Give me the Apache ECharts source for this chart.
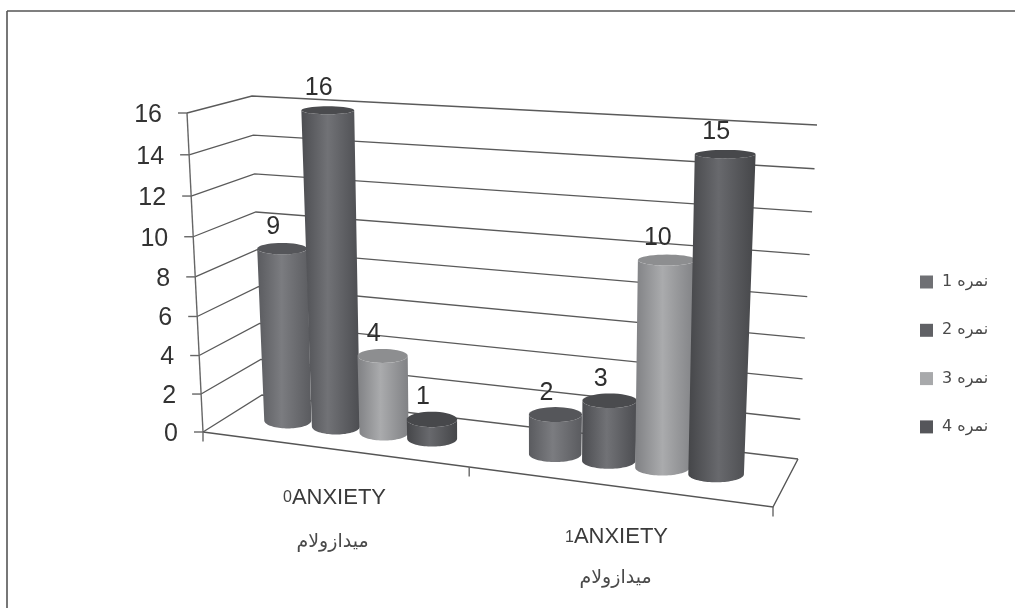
<!DOCTYPE html>
<html><head><meta charset="utf-8">
<style>html,body{margin:0;padding:0;background:#fff}#c{width:1015px;height:608px;filter:blur(0.45px)}</style>
<script src="https://cdn.jsdelivr.net/npm/echarts@6/dist/echarts.min.js"></script>
</head><body><div id="c"></div>
<script>
const categories = ['ANXIETY', 'ANXIETY'];
const categoryDigits = ['0', '1'];
const drugLabels = ['میدازولام', 'میدازولام'];
const seriesNames = ['نمره 1', 'نمره 2', 'نمره 3', 'نمره 4'];
const score1 = [9, 2];
const score2 = [16, 3];
const score3 = [4, 10];
const score4 = [1, 15];
const yTicks = [0, 2, 4, 6, 8, 10, 12, 14, 16];
const allScores = [score1, score2, score3, score4];

// Perspective box (screen corners of the 3D chart box)
const box = {
  flb: [203, 432], frb: [773, 507], blb: [262, 395], brb: [798, 459],
  flt: [187, 113], frt: [780, 146], blt: [252, 96], brt: [817, 125]
};
const lerp = (a, b, t) => [a[0] + (b[0] - a[0]) * t, a[1] + (b[1] - a[1]) * t];
function proj(api, u, v, d) {
  const p = api.coord([u, v]), o = api.coord([0, 0]), e = api.coord([1, 16]);
  const s = (p[0] - o[0]) / (e[0] - o[0]);
  let h = (p[1] - o[1]) / (e[1] - o[1]);
  h = h - 0.055 * h * (1 - h); // vertical foreshortening
  const fb = lerp(box.flb, box.frb, s), bb = lerp(box.blb, box.brb, s);
  const ft = lerp(box.flt, box.frt, s), bt = lerp(box.blt, box.brt, s);
  return lerp(lerp(fb, bb, d), lerp(ft, bt, d), h);
}
const groupCenter = [0.2305, 0.729];
const barStep = [0.087, 0.097];
const palettes = [
  { edge: '#5a5b5f', mid: '#7b7c80', top: '#55565a', legend: '#6f7074' },
  { edge: '#4c4d51', mid: '#717276', top: '#4a4b4e', legend: '#606165' },
  { edge: '#808184', mid: '#aaabad', top: '#8d8e90', legend: '#a8a9ab' },
  { edge: '#454649', mid: '#68696d', top: '#47484b', legend: '#55565a' }
];
function ellipse(c, rx, ry, from, to) {
  const pts = [];
  const n = 40;
  for (let i = 0; i <= n; i++) {
    const a = from + (to - from) * i / n;
    pts.push([c[0] + rx * Math.cos(a), c[1] + ry * Math.sin(a)]);
  }
  return pts;
}
function cylinder(sIdx) {
  return function (params, api) {
    const u = api.value(0), v = api.value(1);
    const b = proj(api, u, 0, 0.5), t = proj(api, u, v, 0.5);
    const rb = 23 + 5.5 * u;
    const rt = rb * (1 + 0.1 * v / 16);
    const ryT = 8 - 4 * v / 16, ryB = 8;
    const pal = palettes[sIdx];
    const body = ellipse(b, rb, ryB, 0, Math.PI).concat(ellipse(t, rt, ryT, Math.PI, 0));
    return {
      type: 'group',
      children: [
        { type: 'polygon', shape: { points: body }, style: {
            fill: new echarts.graphic.LinearGradient(0, 0, 1, 0, [
              { offset: 0, color: pal.edge }, { offset: 0.45, color: pal.mid }, { offset: 1, color: pal.edge }
            ]) } },
        { type: 'polygon', shape: { points: ellipse(t, rt, ryT, 0, Math.PI * 2) }, style: { fill: pal.top } },
        { type: 'text', z2: 10, style: { text: String(v), x: t[0] - 9, y: t[1] - 22, align: 'center', verticalAlign: 'middle',
            font: '25px "Liberation Sans"', fill: '#2e2e2e' } }
      ]
    };
  };
}
function barU(g, i) { return groupCenter[g] + (i - 1.5) * barStep[g]; }

function renderLevel(params, api) {
  const v = api.value(0);
  const fl = proj(api, 0, v, 0), bl = proj(api, 0, v, 1), br = proj(api, 1, v, 1);
  const kids = [
    { type: 'polyline', shape: { points: [fl, bl, br] }, style: { stroke: '#5a5a5a', lineWidth: 1.3, fill: 'none' } },
    { type: 'line', shape: { x1: fl[0] - 9, y1: fl[1], x2: fl[0], y2: fl[1] }, style: { stroke: '#666', lineWidth: 1.4 } },
    { type: 'text', style: { text: String(v), x: fl[0] - 25, y: fl[1] + 2, align: 'right', verticalAlign: 'middle',
        font: '25px "Liberation Sans"', fill: '#333' } }
  ];
  return { type: 'group', children: kids };
}
function renderFrame(params, api) {
  const a = proj(api, 0, 0, 0), b = proj(api, 1, 0, 0), c = proj(api, 1, 0, 1);
  const top = proj(api, 0, 16, 0), mid = proj(api, 0.467, 0, 0);
  const st = { stroke: '#666', lineWidth: 1.4 };
  const tick = p => ({ type: 'line', shape: { x1: p[0], y1: p[1], x2: p[0], y2: p[1] + 9.5 }, style: st });
  return { type: 'group', children: [
    { type: 'line', shape: { x1: top[0], y1: top[1], x2: a[0], y2: a[1] }, style: st },
    { type: 'polyline', shape: { points: [a, b, c] }, style: { stroke: '#555', lineWidth: 1.4, fill: 'none' } },
    tick(a), tick(mid), tick(b)
  ] };
}
function renderCategory(params, api) {
  const g = api.value(0);
  const p = proj(api, 0.25 + 0.5 * g, 0, 0);
  return { type: 'group', children: [
    { type: 'text', style: { x: p[0] - (g ? 14 : 11), y: p[1] + (g ? 49 : 47), align: 'center', verticalAlign: 'middle',
        text: '{d|' + categoryDigits[g] + '}{a|' + categories[g] + '}',
        rich: { d: { font: '16px "Liberation Sans"', fill: '#444' }, a: { font: '22px "Liberation Sans"', fill: '#3a3a3a' } } } },
    { type: 'text', style: { x: p[0] - (g ? 15 : 13), y: p[1] + (g ? 90 : 91), align: 'center', verticalAlign: 'middle', text: drugLabels[g],
        font: '19px "DejaVu Sans"', fill: '#4a4a4a' } }
  ] };
}

const barSeries = seriesNames.map((name, i) => ({
  name, type: 'custom', clip: false, z: 5 + i,
  renderItem: cylinder(i),
  itemStyle: { color: palettes[i].legend },
  encode: { x: 0, y: 1 },
  data: allScores[i].map((v, g) => [barU(g, i), v])
}));

const chart = echarts.init(document.getElementById('c'), null, { renderer: 'canvas' });
chart.setOption({
  animation: false,
  backgroundColor: '#fff',
  grid: { left: 200, right: 200, top: 113, bottom: 176 },
  xAxis: { type: 'value', min: 0, max: 1, show: false },
  yAxis: { type: 'value', min: 0, max: 16, interval: 2, show: false },
  legend: {
    orient: 'vertical', left: 920, top: 274, padding: 0, itemWidth: 13, itemHeight: 13, itemGap: 32.3, itemStyle: { borderWidth: 0 },
    icon: 'rect', data: seriesNames, textStyle: { fontFamily: 'DejaVu Sans', fontSize: 16, lineHeight: 14, color: '#4a4a4a', padding: [0, 0, 0, 4] }
  },
  series: [
    { type: 'custom', z: 1, clip: false, silent: true, renderItem: renderLevel, encode: { y: 0 }, data: yTicks.map(v => [v]) },
    { type: 'custom', z: 2, clip: false, silent: true, renderItem: renderFrame, data: [[0]] },
    { type: 'custom', z: 2, clip: false, silent: true, renderItem: renderCategory, data: categories.map((c, g) => [g]) }
  ].concat(barSeries),
  graphic: [
    { type: 'line', shape: { x1: 7, y1: 11, x2: 1015, y2: 11 }, style: { stroke: '#555', lineWidth: 1.6 } },
    { type: 'line', shape: { x1: 7, y1: 11, x2: 7, y2: 608 }, style: { stroke: '#555', lineWidth: 1.6 } }
  ]
});
</script></body></html>
